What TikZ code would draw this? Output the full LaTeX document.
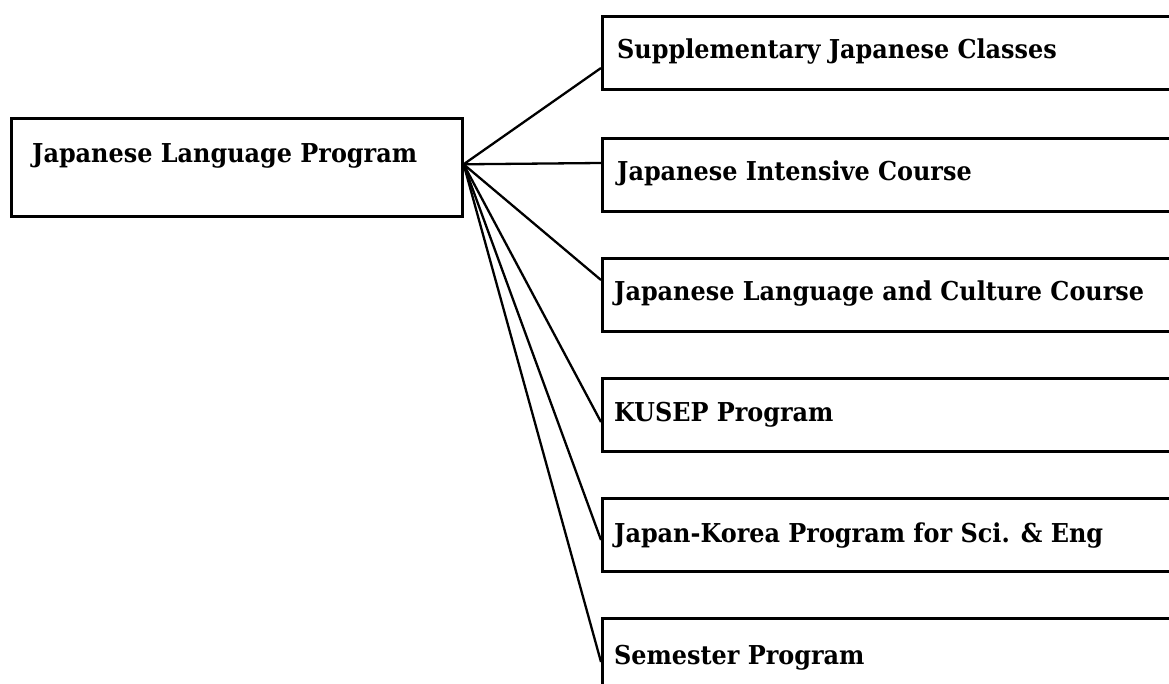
\documentclass[tikz,border=0pt]{standalone}
\usepackage{fontspec}
\setmainfont{DejaVu Serif}
\newfontfamily\lblfont{DejaVu Serif}[FakeStretch=0.92]
\begin{document}
\begin{tikzpicture}[x=1pt,y=-1pt,
  box/.style={draw, line width=2.6pt, minimum width=620pt, minimum height=73pt, anchor=north west, inner sep=0pt},
  lbl/.style={anchor=base west, inner sep=0pt, font=\lblfont\bfseries\fontsize{26}{26}\selectfont},
  conn/.style={line width=2.3pt}]
\useasboundingbox (0,0) rectangle (1169,684);
\clip (0,0) rectangle (1169,684);
\fill[white] (0,0) rectangle (1169,684);
% main box
\node[box, minimum width=451pt, minimum height=98pt] (m) at (10,117) {};
\node[lbl] (mt) at (32,163) {Japanese Language Program};
% right boxes
\node[box] (b1) at (601,15) {};
\node[box] (b2) at (601,137) {};
\node[box] (b3) at (601,257) {};
\node[box] (b4) at (601,377) {};
\node[box] (b5) at (601,497) {};
\node[box] (b6) at (601,617) {};
\node[lbl] (t1) at (617,59) {Supplementary Japanese Classes};
\node[lbl] (t2) at (617,181) {Japanese Intensive Course};
\node[lbl] (t3) at (614,301) {Japanese Language and Culture Course};
\node[lbl] (t4) at (614,421) {KUSEP Program};
\node[lbl] (t5) at (614,542) {Japan-Korea Program for Sci. \& Eng};
\node[lbl] (t6) at (614,664) {Semester Program};
% connectors
\coordinate (j) at ([yshift=3pt]m.east);
\draw[conn] (j) -- ([yshift=-53pt]b1.north west);
\draw[conn] (j) -- ([yshift=-26pt]b2.north west);
\draw[conn] (j) -- ([yshift=-23pt]b3.north west);
\draw[conn] (j) -- ([yshift=-45pt]b4.north west);
\draw[conn] (j) -- ([yshift=-43pt]b5.north west);
\draw[conn] (j) -- ([yshift=-45pt]b6.north west);
\end{tikzpicture}
\end{document}
